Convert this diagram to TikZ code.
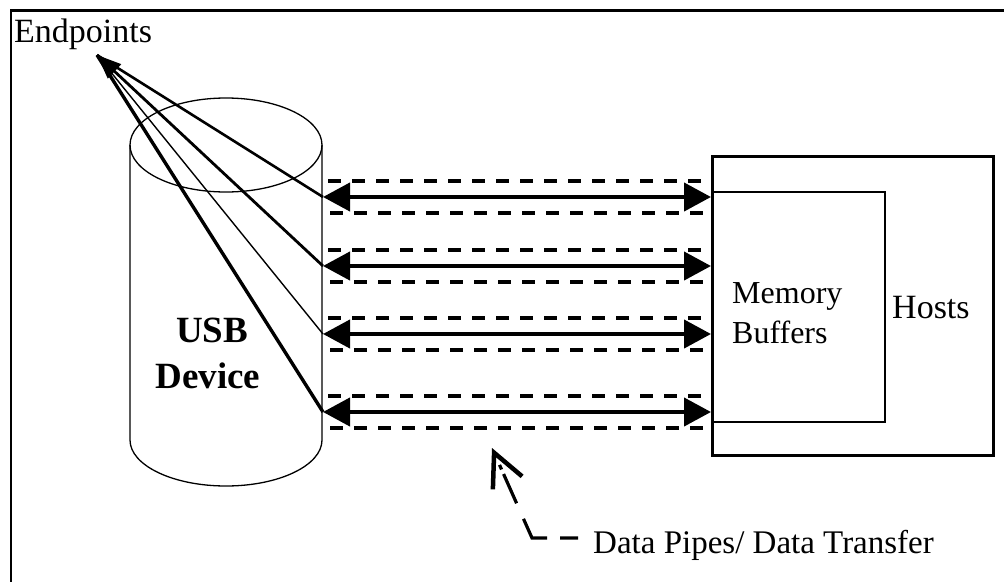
\documentclass[tikz,border=0pt]{standalone}
\usepackage{fontspec}
\setmainfont{Liberation Serif}
\usetikzlibrary{arrows.meta}

\tikzset{
  lbl/.style={inner sep=0pt, font=\fontsize{34}{40}\selectfont},
  devlbl/.style={inner sep=0pt, font=\fontsize{37}{44}\selectfont\bfseries},
  memlbl/.style={inner sep=0pt, font=\fontsize{32}{40}\selectfont},
  thinline/.style={line width=1.3pt},
  pipe/.style={line width=4.2pt, {Triangle[length=27pt,width=28pt]}-{Triangle[length=27pt,width=28pt]}},
  pipewall/.style={line width=3.4pt, dash pattern=on 13pt off 11pt},
  feeler/.style={-{Triangle[length=24pt,width=19pt]}},
  pointer/.style={line width=3.2pt, dash pattern=on 18pt off 13pt on 36pt off 17pt on 32pt off 5pt on 5pt off 40pt,
    -{Straight Barb[length=33pt,width=32pt,line width=4.5pt]}}
}

\begin{document}
\begin{tikzpicture}[x=1pt,y=-1pt]
  \useasboundingbox (0,0) rectangle (1004,581);
  \fill[white] (0,0) rectangle (1004,581);

  % outer frame (top and left edges)
  \draw[line width=2.6pt] (11,590) -- (11,10.5) -- (1010,10.5);

  % USB device cylinder
  \draw[thinline] (226,145) ellipse [x radius=96pt, y radius=47pt];
  \draw[thinline] (130,145) -- (130,440)
    arc[start angle=180, end angle=360, x radius=96pt, y radius=46pt] -- (322,145);
  \node[devlbl, anchor=base] (usb) at (212,342) {USB};
  \node[devlbl, anchor=base] (dev) at (208,388) {Device};

  % host with its memory buffers
  \draw[line width=3pt] (712,156) rectangle (993,455);
  \draw[thinline] (712,192) -- (885,192) -- (885,422) -- (712,422);
  \node[memlbl, anchor=base west] (mem1) at (732,303) {Memory};
  \node[memlbl, anchor=base west] (mem2) at (732,343) {Buffers};
  \node[lbl, anchor=base west] (hosts) at (892,318) {Hosts};

  % pipe end points
  \foreach \i/\y in {1/197, 2/266, 3/334, 4/412} {
    \coordinate (a\i) at (323,\y);
    \coordinate (b\i) at (711,\y);
    \coordinate (wu\i) at (328,\y-16);
    \coordinate (wue\i) at (706,\y-16);
    \coordinate (wd\i) at (330,\y+16);
    \coordinate (wde\i) at (706,\y+16);
  }

  % data pipes: walls and bidirectional transfers
  \foreach \i in {1,...,4} {
    \draw[pipewall] (wu\i) -- (wue\i);
    \draw[pipewall] (wd\i) -- (wde\i);
    \draw[pipe] (a\i) -- (b\i);
  }

  % endpoints label and its leaders
  \node[lbl, anchor=base west] (ep) at (14,42) {Endpoints};
  \coordinate (apex) at (97,55);
  \draw[line width=2.6pt] (a1) -- (apex);
  \draw[line width=2.8pt, feeler] (a2) -- (apex);
  \draw[line width=1.4pt] (a3) -- (apex);
  \draw[line width=3.4pt] (a4) -- (apex);

  % data pipe pointer
  \node[lbl, font=\fontsize{33}{40}\selectfont, anchor=base west] (dp) at (593,553) {Data Pipes/ Data Transfer};
  \coordinate (ptail) at (578,538);
  \coordinate (pbend) at (532,538);
  \coordinate (ptip) at (492,448);
  \draw[pointer] (ptail) -- (pbend) -- (ptip);
\end{tikzpicture}
\end{document}
